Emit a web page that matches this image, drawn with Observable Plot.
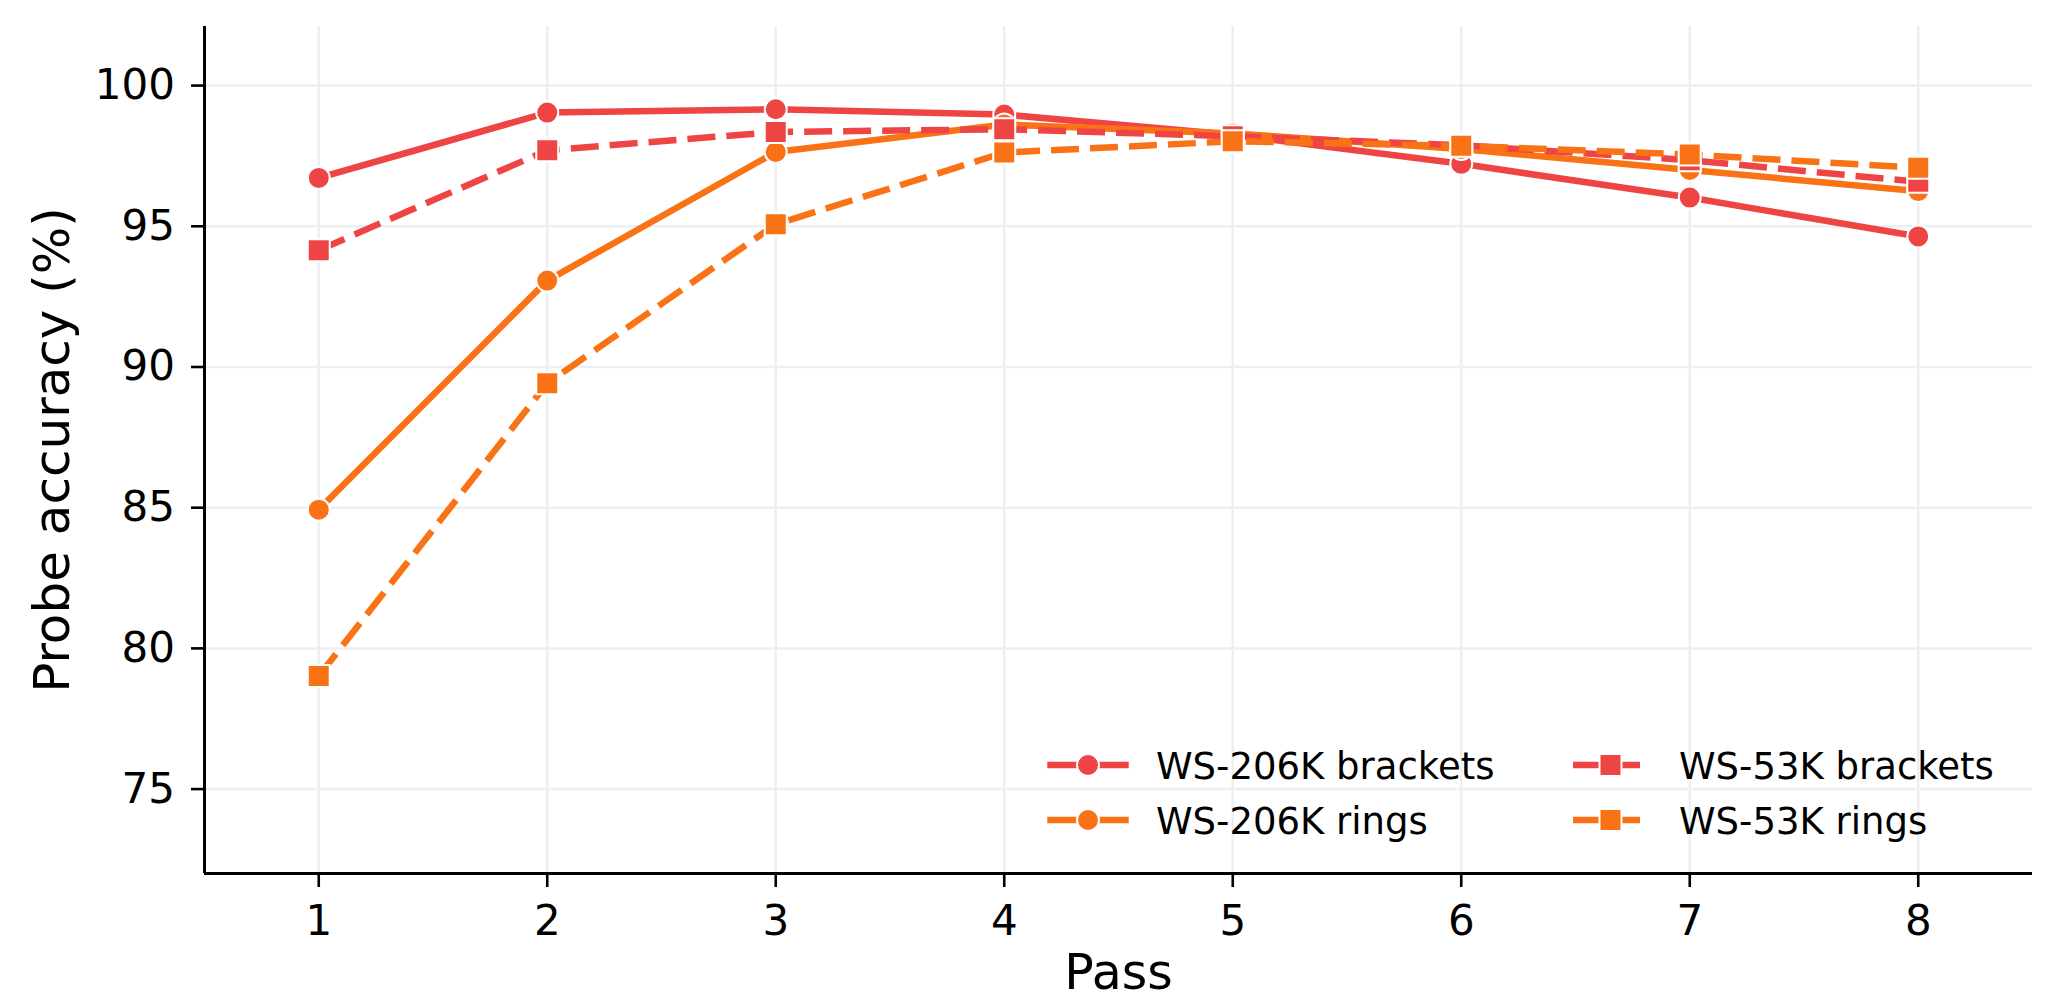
<!DOCTYPE html>
<html>
<head>
<meta charset="utf-8">
<script src="https://cdn.jsdelivr.net/npm/d3@7"></script>
<script src="https://cdn.jsdelivr.net/npm/@observablehq/plot@0.6"></script>
<style>
  html, body { margin: 0; padding: 0; background: #ffffff; }
  #wrap { position: relative; width: 2061px; height: 1000px; }
  #legend { position: absolute; left: 0; top: 0; pointer-events: none; }
</style>
</head>
<body>
<div id="wrap"></div>
<script>
// ---------------- data ----------------
const passes = [1, 2, 3, 4, 5, 6, 7, 8];
const seriesNames = ["WS-206K brackets", "WS-206K rings", "WS-53K brackets", "WS-53K rings"];
const ws206kBrackets = [96.72, 99.04, 99.16, 98.97, 98.25, 97.22, 96.02, 94.64];
const ws206kRings    = [84.93, 93.07, 97.64, 98.62, 98.30, 97.75, 97.00, 96.25];
const ws53kBrackets  = [94.15, 97.70, 98.35, 98.45, 98.20, 97.88, 97.35, 96.58];
const ws53kRings     = [79.02, 89.42, 95.07, 97.62, 98.02, 97.86, 97.55, 97.08];
const seriesColors  = ["#ef4444", "#f97316", "#ef4444", "#f97316"];
const seriesSymbols = ["circle", "circle", "square", "square"];
const seriesDashed  = [false, false, true, true];
const yTicks = [75, 80, 85, 90, 95, 100];
const xDomain = [0.5, 8.5];
const yDomain = [72, 102.1];
const xLabel = "Pass";
const yLabel = "Probe accuracy (%)";

// ---------------- styles ----------------
const W = 2061, H = 1000;
const FONT = "DejaVu Sans";
const LW = 6.5;
const DASH = "28,11";
const GRID = "#eceff4";
const symbolR = { circle: 11, square: 12.4 };

const seriesValues = [ws206kBrackets, ws206kRings, ws53kBrackets, ws53kRings];
const rows = seriesNames.map((name, i) =>
  passes.map((p, j) => ({ series: name, pass: p, value: seriesValues[i][j] }))
);

const marks = [
  Plot.gridX(passes, { stroke: GRID, strokeOpacity: 1, strokeWidth: 2.5 }),
  Plot.gridY(yTicks, { stroke: GRID, strokeOpacity: 1, strokeWidth: 2.5 })
];

rows.forEach((data, i) => {
  marks.push(Plot.line(data, {
    x: "pass", y: "value",
    stroke: seriesColors[i], strokeWidth: LW,
    strokeDasharray: seriesDashed[i] ? DASH : undefined,
    strokeLinecap: seriesDashed[i] ? "butt" : "square",
    strokeLinejoin: "round"
  }));
  marks.push(Plot.dot(data, {
    x: "pass", y: "value",
    symbol: seriesSymbols[i], r: symbolR[seriesSymbols[i]],
    fill: seriesColors[i], stroke: "white", strokeWidth: 2
  }));
});

marks.push(
  Plot.ruleX([xDomain[0]], { stroke: "black", strokeWidth: 3 }),
  Plot.ruleY([yDomain[0]], { stroke: "black", strokeWidth: 3 }),
  Plot.axisX(passes, { tickSize: 14, tickPadding: 18, fontSize: 42, strokeWidth: 2.6, label: null, tickFormat: d => String(d) }),
  Plot.axisY(yTicks, { tickSize: 13, tickPadding: 16.5, fontSize: 42, strokeWidth: 2.6, label: null, tickFormat: d => String(d) }),
  Plot.text([xLabel], { text: d => d, frameAnchor: "bottom", textAnchor: "middle", lineAnchor: "bottom", dy: 115, fontSize: 49 }),
  Plot.text([yLabel], { text: d => d, frameAnchor: "left", textAnchor: "middle", lineAnchor: "bottom", rotate: -90, dx: -136, fontSize: 50 })
);

const chart = Plot.plot({
  width: W, height: H,
  marginLeft: 204, marginRight: 29, marginTop: 26, marginBottom: 127,
  x: { domain: xDomain, type: "linear" },
  y: { domain: yDomain, type: "linear" },
  style: { fontFamily: FONT, fontSize: "42px", background: "#ffffff", color: "black" },
  marks
});

const wrap = document.getElementById("wrap");
wrap.appendChild(chart);

// ---------------- legend (overlay) ----------------
const legendCols = [1050.5, 1573];   // handle start x per column
const legendTextX = [1156, 1679];
const legendRowsY = [765, 820];      // vertical centre per row
const handleLen = 75;
const legendOrder = [[0, 0, 0], [1, 0, 1], [2, 1, 0], [3, 1, 1]]; // series, col, row

const lsvg = d3.create("svg")
  .attr("id", "legend")
  .attr("width", W).attr("height", H)
  .attr("font-family", FONT);

for (const [si, col, row] of legendOrder) {
  const x0 = legendCols[col], yc = legendRowsY[row];
  const g = lsvg.append("g");
  g.append("line")
    .attr("x1", x0).attr("x2", x0 + handleLen)
    .attr("y1", yc).attr("y2", yc)
    .attr("stroke", seriesColors[si]).attr("stroke-width", LW)
    .attr("stroke-linecap", seriesDashed[si] ? "butt" : "square")
    .attr("stroke-dasharray", seriesDashed[si] ? DASH : null);
  const cx = x0 + handleLen / 2;
  const sym = seriesSymbols[si];
  const r = symbolR[sym];
  const path = d3.symbol(sym === "circle" ? d3.symbolCircle : d3.symbolSquare, Math.PI * r * r)();
  g.append("path")
    .attr("d", path)
    .attr("transform", `translate(${cx},${yc})`)
    .attr("fill", seriesColors[si]).attr("stroke", "white").attr("stroke-width", 2);
  g.append("text")
    .attr("x", legendTextX[col]).attr("y", yc + 13.5)
    .attr("font-size", 37).attr("fill", "black")
    .text(seriesNames[si]);
}
wrap.appendChild(lsvg.node());
</script>
</body>
</html>
